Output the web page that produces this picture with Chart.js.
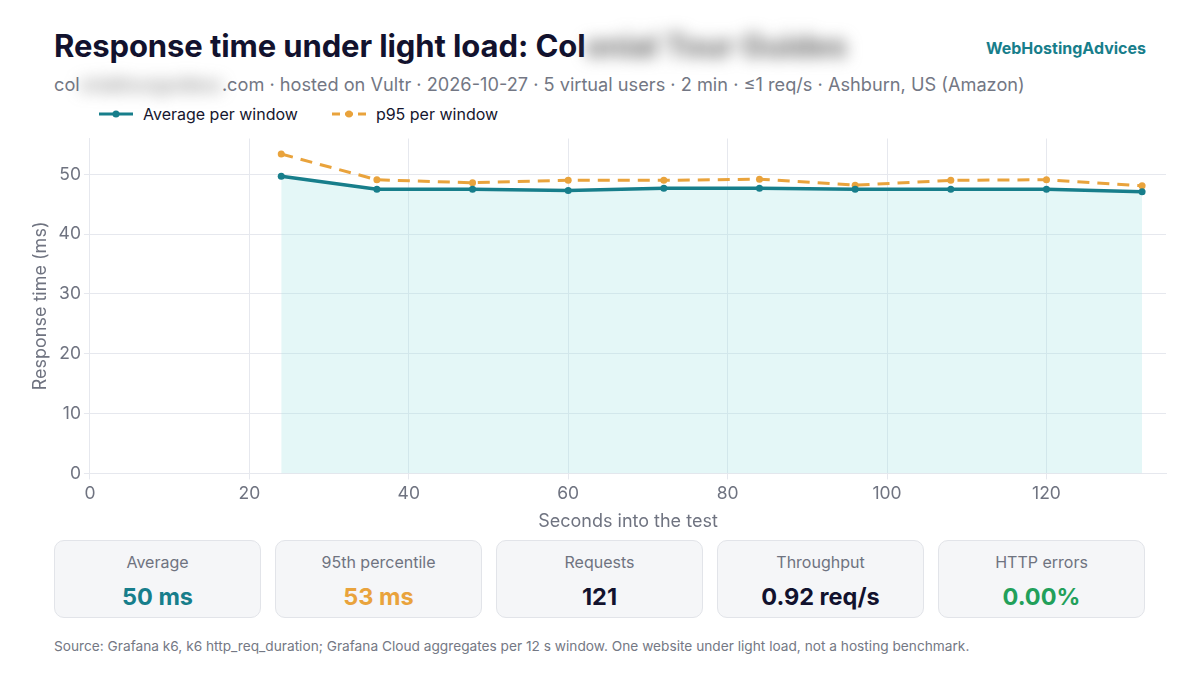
<!DOCTYPE html>
<html>
<head>
<meta charset="utf-8">
<script src="https://cdn.jsdelivr.net/npm/chart.js@4"></script>
<style>
  body { margin: 0; width: 1200px; height: 675px; background: #fff; font-family: Inter, "Noto Sans", sans-serif; position: relative; overflow: hidden; }
  .titulo { position: absolute; left: 54px; top: 27px; font-size: 31px; font-weight: 700; color: #12122e; letter-spacing: -0.1px; white-space: nowrap; }
  .borrado { filter: blur(8px); color: #666; }
  .marca { position: absolute; right: 54px; top: 38px; font-size: 16px; font-weight: 700; color: #177e8b; }
  .sub { position: absolute; left: 54px; top: 73px; font-size: 18.2px; color: #737784; white-space: nowrap; }
  .legenda { position: absolute; left: 99px; top: 104px; font-size: 16px; color: #16162e; display: flex; gap: 34px; }
  .legenda span { display: flex; align-items: center; }
  .mk { display: inline-block; width: 34px; height: 16px; margin-right: 10px; }
  #caixa { position: absolute; left: 26px; top: 125px; width: 1144px; height: 411px; }
  .cards { position: absolute; left: 54px; top: 540px; display: flex; gap: 14px; }
  .card { width: 205px; height: 76px; background: #f5f6f8; border: 1px solid #e2e4e9; border-radius: 10px; text-align: center; }
  .card .rot { margin-top: 11px; font-size: 16px; color: #6f7380; }
  .card .val { margin-top: 10px; font-size: 23.5px; font-weight: 700; }
  .fonte { position: absolute; left: 54px; top: 638px; font-size: 13.7px; color: #747884; white-space: nowrap; }
</style>
</head>
<body>
<div class="titulo">Response time under light load: Col<span class="borrado">onial Tour Guides</span></div>
<div class="marca">WebHostingAdvices</div>
<div class="sub">col<span class="borrado">onialtourguidess</span>.com · hosted on Vultr · 2026-10-27 · 5 virtual users · 2 min · ≤1 req/s · Ashburn, US (Amazon)</div>
<div class="legenda">
  <span><svg class="mk" viewBox="0 0 34 16"><line x1="0" y1="8" x2="34" y2="8" stroke="#177e8b" stroke-width="3"/><circle cx="17" cy="8" r="3.5" fill="#177e8b"/></svg>Average per window</span>
  <span><svg class="mk" viewBox="0 0 34 16"><line x1="0" y1="8" x2="34" y2="8" stroke="#e9a33c" stroke-width="3" stroke-dasharray="8 5"/><circle cx="17" cy="8" r="3.5" fill="#e9a33c"/></svg>p95 per window</span>
</div>
<div id="caixa"><canvas id="grafico"></canvas></div>
<div class="cards">
  <div class="card"><div class="rot">Average</div><div class="val" style="color:#177e8b">50 ms</div></div>
  <div class="card"><div class="rot">95th percentile</div><div class="val" style="color:#e9a33c">53 ms</div></div>
  <div class="card"><div class="rot">Requests</div><div class="val" style="color:#12122e">121</div></div>
  <div class="card"><div class="rot">Throughput</div><div class="val" style="color:#12122e">0.92 req/s</div></div>
  <div class="card"><div class="rot">HTTP errors</div><div class="val" style="color:#22a05a">0.00%</div></div>
</div>
<div class="fonte">Source: Grafana k6, k6 http_req_duration; Grafana Cloud aggregates per 12 s window. One website under light load, not a hosting benchmark.</div>
<script>
// segundos de cada janela de 12 s
const segundos = [24, 36, 48, 60, 72, 84, 96, 108, 120, 132]
const mediaMs = [49.7, 47.5, 47.5, 47.3, 47.7, 47.7, 47.5, 47.5, 47.5, 47.1]
const p95Ms = [53.4, 49.1, 48.6, 49.0, 49.0, 49.2, 48.2, 49.0, 49.1, 48.1]

const corMedia = '#177e8b'
const corP95 = '#e9a33c'
const cinza = '#6f7380'

const grafico = new Chart(document.getElementById('grafico'), {
  type: 'line',
  data: {
    datasets: [
      {
        label: 'Average per window',
        data: segundos.map((s, i) => ({ x: s, y: mediaMs[i] })),
        borderColor: corMedia,
        backgroundColor: 'rgba(165,230,230,0.3)',
        fill: 'origin',
        borderWidth: 3.5,
        pointRadius: 3.5,
        pointBackgroundColor: corMedia,
        pointBorderWidth: 0,
        tension: 0
      },
      {
        label: 'p95 per window',
        data: segundos.map((s, i) => ({ x: s, y: p95Ms[i] })),
        borderColor: corP95,
        backgroundColor: corP95,
        borderDash: [12, 8],
        fill: false,
        borderWidth: 3,
        pointRadius: 3.5,
        pointBackgroundColor: corP95,
        pointBorderWidth: 0,
        tension: 0
      }
    ]
  },
  options: {
    responsive: true,
    maintainAspectRatio: false,
    animation: false,
    layout: { padding: { top: 5 } },
    plugins: { legend: { display: false }, tooltip: { enabled: false } },
    scales: {
      x: {
        type: 'linear',
        min: 0,
        max: 135,
        ticks: { stepSize: 20, includeBounds: false, color: cinza, font: { family: 'Inter', size: 17.5 }, padding: 4 },
        grid: { color: '#e6e8ee', tickLength: 6 },
        border: { color: '#e6e8ee' },
        title: { display: true, text: 'Seconds into the test', color: cinza, font: { family: 'Inter', size: 18 }, padding: { top: 2 } }
      },
      y: {
        min: 0,
        max: 56,
        ticks: { stepSize: 10, includeBounds: false, color: cinza, font: { family: 'Inter', size: 17.5 }, padding: 3 },
        grid: { color: '#e6e8ee', tickLength: 6 },
        border: { color: '#e6e8ee' },
        title: { display: true, text: 'Response time (ms)', color: cinza, font: { family: 'Inter', size: 18 }, padding: { bottom: 4 } }
      }
    }
  }
})
</script>
</body>
</html>
